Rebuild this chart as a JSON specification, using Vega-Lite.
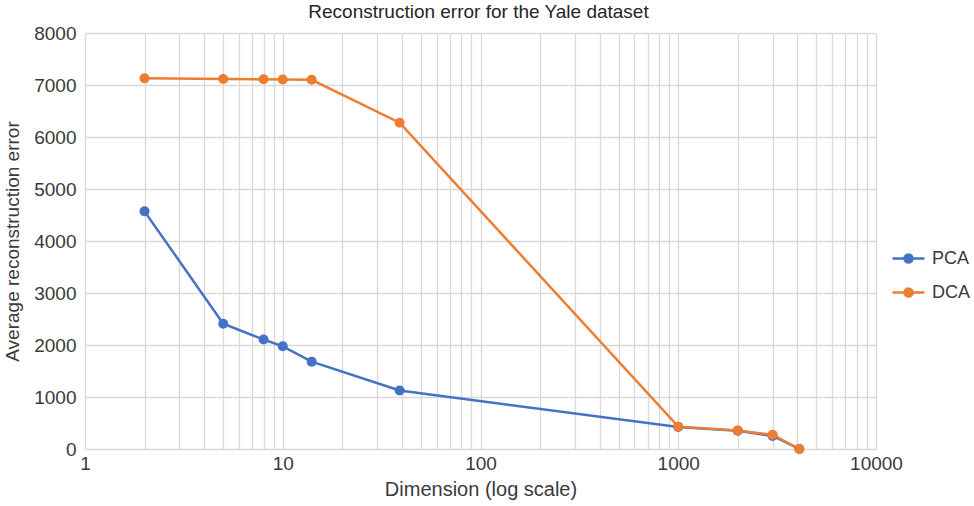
{
  "$schema": "https://vega.github.io/schema/vega-lite/v6.json",
  "width": 791,
  "height": 416,
  "autosize": "none",
  "padding": {"left": 85, "top": 33, "right": 98, "bottom": 57},
  "background": "white",
  "config": {
    "font": "Liberation Sans",
    "view": {"stroke": null},
    "axis": {"labelColor": "#3a3a3a", "titleColor": "#3a3a3a", "labelFontSize": 19, "titleFontSize": 19, "titleFontWeight": "normal", "gridColor": "#d9d9d9", "gridWidth": 1.3, "domain": false, "ticks": false}
  },
  "title": {"text": "Reconstruction error for the Yale dataset", "fontSize": 19, "fontWeight": "normal", "color": "#262626", "anchor": "middle", "offset": 2, "dx": -2},
  "data": {
    "values": [
      {"dim": 2, "series": "PCA", "error": 4570},
      {"dim": 5, "series": "PCA", "error": 2410},
      {"dim": 8, "series": "PCA", "error": 2105},
      {"dim": 10, "series": "PCA", "error": 1975},
      {"dim": 14, "series": "PCA", "error": 1680},
      {"dim": 39, "series": "PCA", "error": 1125},
      {"dim": 1000, "series": "PCA", "error": 425},
      {"dim": 2000, "series": "PCA", "error": 350},
      {"dim": 3000, "series": "PCA", "error": 250},
      {"dim": 4096, "series": "PCA", "error": 0},
      {"dim": 2, "series": "DCA", "error": 7128},
      {"dim": 5, "series": "DCA", "error": 7115},
      {"dim": 8, "series": "DCA", "error": 7110},
      {"dim": 10, "series": "DCA", "error": 7105},
      {"dim": 14, "series": "DCA", "error": 7100},
      {"dim": 39, "series": "DCA", "error": 6275},
      {"dim": 1000, "series": "DCA", "error": 430},
      {"dim": 2000, "series": "DCA", "error": 355},
      {"dim": 3000, "series": "DCA", "error": 275},
      {"dim": 4096, "series": "DCA", "error": 0}
    ]
  },
  "mark": {"type": "line", "strokeWidth": 2.5, "point": {"filled": true, "size": 100, "opacity": 1}},
  "encoding": {
    "x": {
      "field": "dim", "type": "quantitative",
      "scale": {"type": "log", "domain": [1, 10000], "nice": false},
      "axis": {
        "title": "Dimension (log scale)",
        "titleFontSize": 20,
        "values": [1,2,3,4,5,6,7,8,9,10,20,30,40,50,60,70,80,90,100,200,300,400,500,600,700,800,900,1000,2000,3000,4000,5000,6000,7000,8000,9000,10000],
        "format": "d",
        "labelExpr": "indexof([1,10,100,1000,10000], datum.value) >= 0 ? datum.label : ''",
        "labelPadding": 5,
        "titlePadding": 6,
        "labelFlush": false,
        "labelOverlap": false
      }
    },
    "y": {
      "field": "error", "type": "quantitative",
      "scale": {"domain": [0, 8000], "nice": false},
      "axis": {
        "title": "Average reconstruction error",
        "values": [0,1000,2000,3000,4000,5000,6000,7000,8000],
        "format": "d",
        "labelPadding": 9,
        "titleX": -73,
        "titleY": 208,
        "titleAngle": -90,
        "titleAlign": "center",
        "titleBaseline": "middle"
      }
    },
    "color": {
      "field": "series", "type": "nominal",
      "scale": {"domain": ["PCA", "DCA"], "range": ["#4472C4", "#ED7D31"]},
      "legend": {
        "title": null,
        "orient": "none",
        "legendX": 806,
        "legendY": 208,
        "padding": 0,
        "symbolType": "M-1,0L1,0M0.25,0A0.25,0.25,0,1,1,-0.25,0A0.25,0.25,0,1,1,0.25,0Z",
        "symbolSize": 1024,
        "symbolStrokeWidth": 2.5,
        "labelFontSize": 18,
        "labelColor": "#3a3a3a",
        "labelOffset": 6,
        "rowPadding": 7,
        "encode": {"symbols": {"update": {"fill": {"scale": "color", "field": "value"}, "fillOpacity": {"value": 1}}}}
      }
    }
  }
}
